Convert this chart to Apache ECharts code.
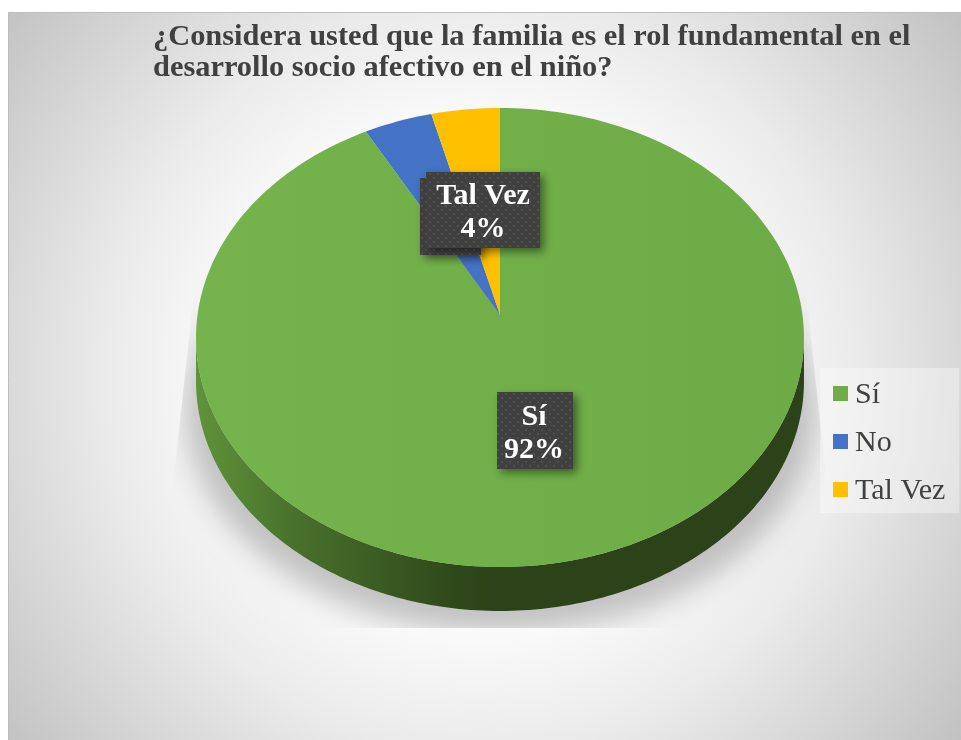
<!DOCTYPE html>
<html>
<head>
<meta charset="utf-8">
<style>html,body{margin:0;padding:0;background:#fff}#chart{width:961px;height:740px}</style>
<script src="https://cdn.jsdelivr.net/npm/echarts@6/dist/echarts.min.js"></script>
</head>
<body>
<div id="chart"></div>
<script>
// Survey answers, in percent
const categories = ['Sí', 'No', 'Tal Vez'];
const percentages = [92, 4, 4];
const sliceColors = ['#70AD47', '#4472C4', '#FFC000'];
const titleLines = [
  '¿Considera usted que la familia es el rol fundamental en el',
  'desarrollo socio afectivo en el niño?'
];

// Tilted disc: a circle seen in perspective, so the slices meet above the ellipse centre
const disc = { cx: 500, cy: 315, rx: 302.5, ry: 227.3, k: -0.098, depth: 44 };
const labelBoxes = [
  { x: 497, y: 392, w: 76, h: 77, cx: 534, cy: 434 },
  { x: 420, y: 178, w: 61, h: 77, cx: 450, cy: 216 },
  { x: 426, y: 172, w: 114, h: 76, cx: 483, cy: 213 }
];
const fontFamily = '"Liberation Serif", "Times New Roman", serif';

function project(theta) {
  const u = Math.sin(theta), v = -Math.cos(theta), w = 1 + disc.k * v;
  return [disc.cx + disc.rx * u / w, disc.cy + disc.ry * v / w];
}

function slicePoints(from, to) {
  const pts = [[disc.cx, disc.cy]];
  const steps = Math.max(8, Math.ceil((to - from) * 240));
  for (let i = 0; i <= steps; i++) {
    pts.push(project((from + (to - from) * i / steps) * Math.PI * 2));
  }
  return pts;
}

// Outer wall: the front half of the rim and the same rim pushed down by the depth
function wallPoints() {
  const rim = [];
  for (let i = 0; i <= 360; i++) {
    const p = project(i / 360 * Math.PI * 2);
    if (p[1] >= 337) rim.push(p);
  }
  rim.sort((a, b) => a[0] - b[0]);
  const upper = rim.slice().reverse();
  const lower = rim.map(p => [p[0], p[1] + disc.depth]);
  return lower.concat(upper);
}

function dotPattern() {
  const c = document.createElement('canvas');
  c.width = c.height = 8;
  const g = c.getContext('2d');
  g.fillStyle = '#404040';
  g.fillRect(0, 0, 8, 8);
  g.fillStyle = '#4f4f4f';
  g.fillRect(1, 1, 2, 2);
  g.fillRect(5, 5, 2, 2);
  return c;
}
const labelFill = { image: dotPattern(), repeat: 'repeat' };

// Only the blurred shadow lands inside the clip: the ellipse itself sits far above it
const shadowLift = 3000;
const dropShadow = {
  type: 'ellipse',
  shape: { cx: 500, cy: 410 - shadowLift, rx: 314, ry: 224 },
  z2: 1,
  style: {
    fill: '#000000',
    shadowBlur: 28,
    shadowOffsetY: shadowLift,
    shadowColor: 'rgba(0,0,0,0.22)'
  },
  clipPath: { type: 'polygon', shape: { points: [[197, 262], [803, 262], [842, 628], [158, 628]] } }
};

const wall = {
  type: 'polygon',
  shape: { points: wallPoints() },
  z2: 2,
  style: {
    fill: {
      type: 'linear', x: 196, y: 0, x2: 804, y2: 0, global: true,
      colorStops: [
        { offset: 0, color: '#5f9339' },
        { offset: 0.17, color: '#47702b' },
        { offset: 0.42, color: '#30491b' },
        { offset: 0.5, color: '#2c4219' },
        { offset: 1, color: '#2c4219' }
      ]
    }
  }
};

const topSheen = {
  type: 'linear', x: 196, y: 0, x2: 804, y2: 0, global: true,
  colorStops: [
    { offset: 0, color: '#75b44c' },
    { offset: 1, color: '#6dab46' }
  ]
};

const total = percentages.reduce((a, b) => a + b, 0);

function renderSlice(index) {
  return function (params, api) {
    const before = percentages.slice(0, index).reduce((a, b) => a + b, 0);
    const from = before / total;
    const to = from + api.value(0) / total;
    const box = labelBoxes[index];
    const children = [];
    if (index === 0) children.push(dropShadow, wall);
    children.push({
      type: 'polygon',
      shape: { points: slicePoints(from, to) },
      z2: 3 + index,
      style: { fill: index === 0 ? topSheen : api.visual('color') }
    });
    children.push({
      type: 'rect',
      shape: { x: box.x, y: box.y, width: box.w, height: box.h },
      z2: 10 + index * 2,
      style: {
        fill: labelFill,
        shadowBlur: 8,
        shadowOffsetX: 4,
        shadowOffsetY: 4,
        shadowColor: 'rgba(0,0,0,0.45)'
      }
    });
    children.push({
      type: 'text',
      z2: 11 + index * 2,
      x: box.cx,
      y: box.cy,
      style: {
        text: categories[index] + '\n' + api.value(0) + '%',
        fill: '#ffffff',
        font: 'bold 30px ' + fontFamily,
        lineHeight: 33,
        align: 'center',
        verticalAlign: 'middle'
      }
    });
    return { type: 'group', children };
  };
}

const chart = echarts.init(document.getElementById('chart'));
chart.setOption({
  animation: false,
  backgroundColor: '#ffffff',
  color: sliceColors,
  graphic: [{
    type: 'rect',
    z: -10,
    shape: { x: 8.5, y: 12.5, width: 960, height: 740 },
    style: {
      stroke: '#bdbdbd',
      lineWidth: 1,
      fill: {
        type: 'radial', x: 480, y: 376, r: 602, global: true,
        colorStops: [
          { offset: 0, color: '#ffffff' },
          { offset: 0.44, color: '#f9f9f9' },
          { offset: 0.62, color: '#ebebeb' },
          { offset: 1, color: '#c2c2c2' }
        ]
      }
    }
  }],
  title: {
    text: titleLines.join('\n'),
    left: 153,
    top: 22,
    padding: 0,
    textStyle: {
      fontFamily,
      fontWeight: 'bold',
      fontSize: 30.4,
      lineHeight: 31,
      color: '#404040'
    }
  },
  legend: {
    data: categories,
    orient: 'vertical',
    left: 820,
    top: 368,
    padding: [9, 14, 7, 13],
    backgroundColor: 'rgba(255,255,255,0.35)',
    icon: 'rect',
    itemWidth: 15,
    itemHeight: 15,
    itemGap: 15,
    selectedMode: false,
    formatter: '{a|{name}}',
    textStyle: {
      rich: {
        a: {
          fontFamily,
          fontSize: 30,
          lineHeight: 33,
          color: '#404040',
          verticalAlign: 'top',
          padding: [3, 0, 0, 2]
        }
      }
    }
  },
  series: categories.map((name, i) => ({
    type: 'custom',
    name,
    coordinateSystem: 'none',
    renderItem: renderSlice(i),
    data: [[percentages[i]]],
    silent: true
  }))
});
</script>
</body>
</html>
